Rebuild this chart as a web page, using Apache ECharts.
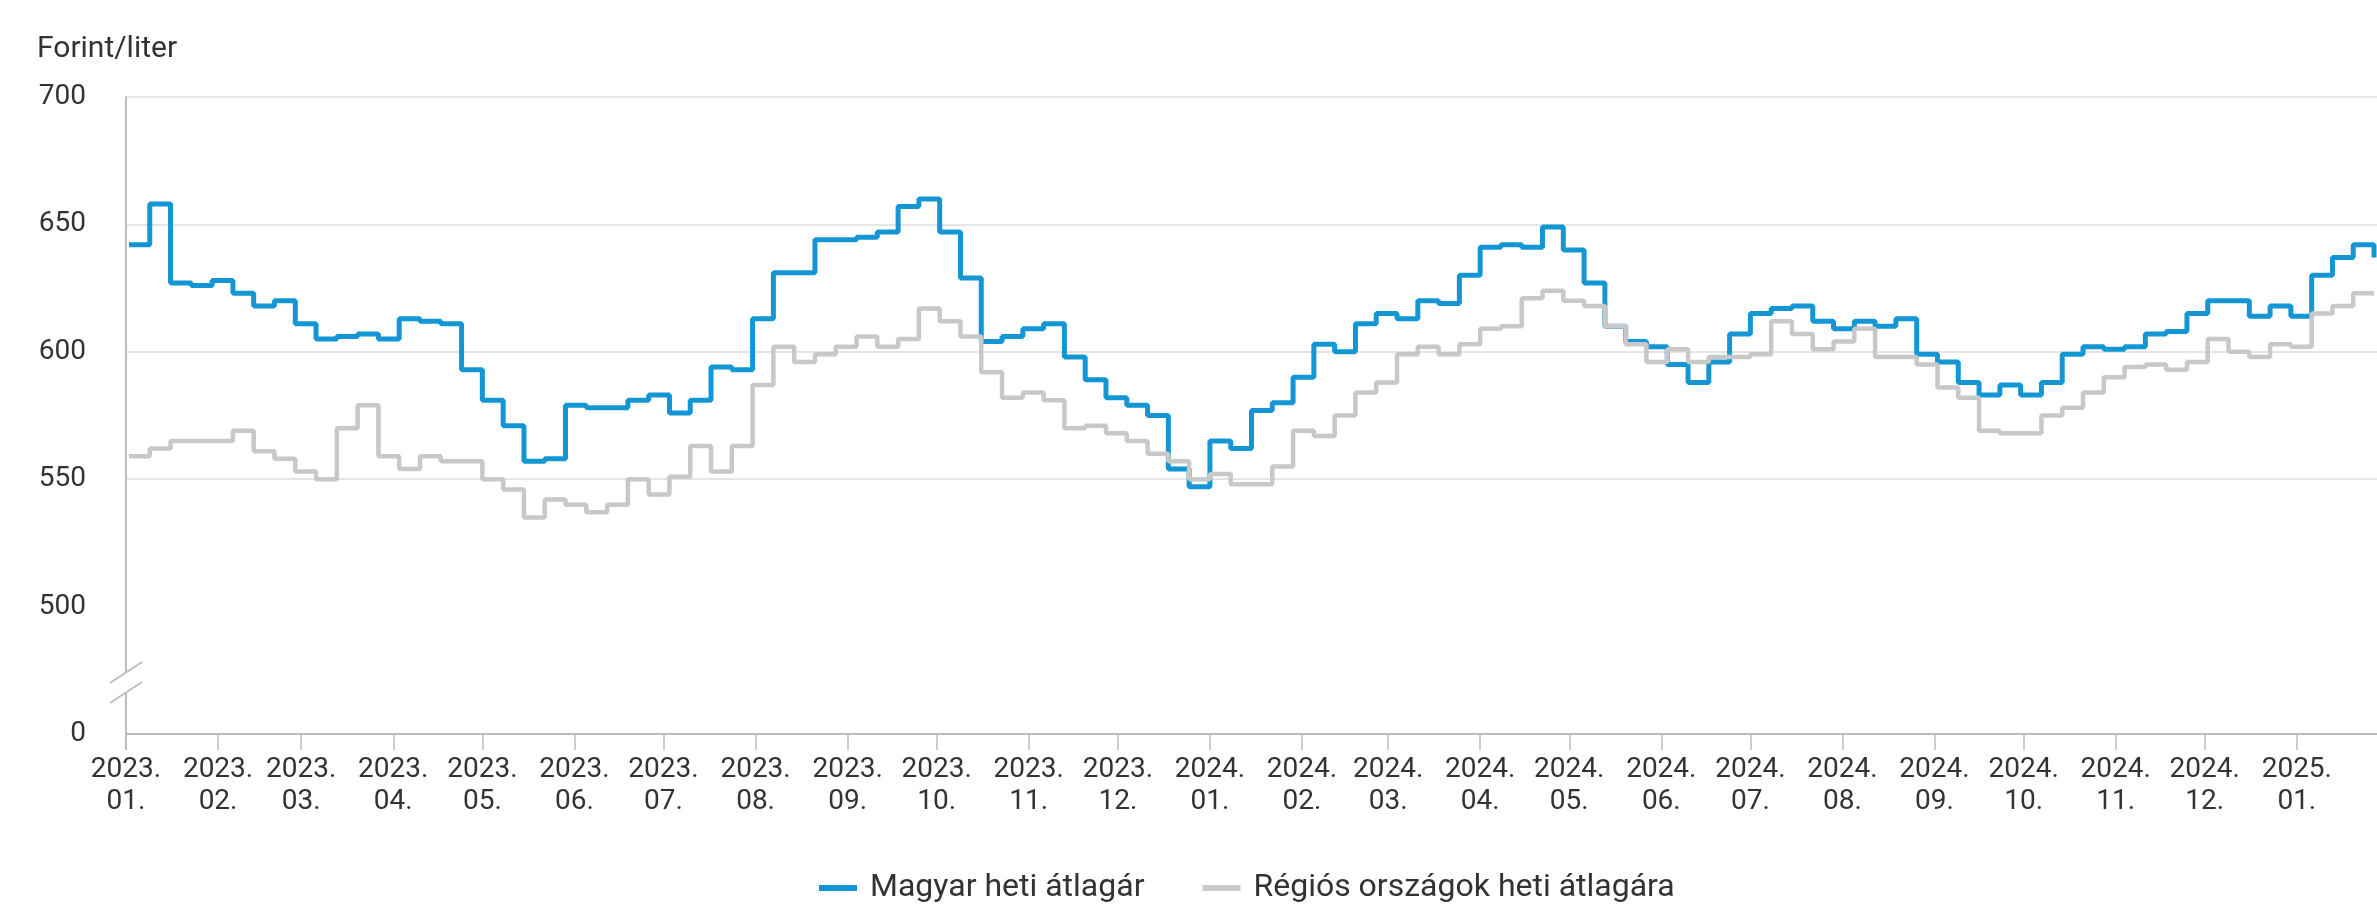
<!DOCTYPE html>
<html>
<head>
<meta charset="utf-8">
<title>Benzin heti átlagár</title>
<script src="https://cdn.jsdelivr.net/npm/echarts@6.0.0/dist/echarts.min.js"></script>
<style>
  html, body { margin: 0; padding: 0; background: #fff; }
  #chart-container { width: 2377px; height: 910px; }
</style>
</head>
<body>
<div id="chart-container"></div>
<script>
// weekly averages, Forint/liter, one value per week starting 2023-01-02
var firstWeek = Date.UTC(2023, 0, 2);

var huPrices = [
  642, 658, 627, 626, 628, 623, 618, 620, 611, 605, 606, 607, 605, 613, 612, 611,
  593, 581, 571, 557, 558, 579, 578, 578, 581, 583, 576, 581, 594, 593, 613,
  631, 631, 644, 644, 645, 647, 657, 660, 647, 629, 604, 606, 609, 611, 598,
  589, 582, 579, 575, 554, 547, 565, 562, 577, 580, 590, 603, 600, 611, 615,
  613, 620, 619, 630, 641, 642, 641, 649, 640, 627, 610, 604, 602, 595, 588, 596,
  607, 615, 617, 618, 612, 609, 612, 610, 613, 599, 596, 588, 583, 587, 583,
  588, 599, 602, 601, 602, 607, 608, 615, 620, 620, 614, 618, 614, 630, 637, 642, 637
];

var regionPrices = [
  559, 562, 565, 565, 565, 569, 561, 558, 553, 550, 570, 579, 559, 554, 559, 557,
  557, 550, 546, 535, 542, 540, 537, 540, 550, 544, 551, 563, 553, 563, 587,
  602, 596, 599, 602, 606, 602, 605, 617, 612, 606, 592, 582, 584, 581, 570,
  571, 568, 565, 560, 557, 550, 552, 548, 548, 555, 569, 567, 575, 584, 588,
  599, 602, 599, 603, 609, 610, 621, 624, 620, 618, 610, 603, 596, 601, 596, 598,
  598, 599, 612, 607, 601, 604, 609, 598, 598, 595, 586, 582, 569, 568, 568,
  575, 578, 584, 590, 594, 595, 593, 596, 605, 600, 598, 603, 602, 615, 618, 623, 623
];

var seriesNames = ['Magyar heti átlagár', 'Régiós országok heti átlagára'];
var yTicks = [0, 500, 550, 600, 650, 700];
var xRange = ['2023-01-01', '2025-01-28'];

var weeks = [];
for (var i = 0; i < huPrices.length; i++) {
  weeks.push(new Date(firstWeek + i * 7 * 864e5).toISOString().slice(0, 10));
}

var dom = document.getElementById('chart-container');
var myChart = echarts.init(dom, null, { renderer: 'canvas' });

var axisGray = '#bdbdbd';
var textColor = '#333';

var option = {
  animation: false,
  textStyle: { fontFamily: 'Roboto' },
  title: {
    text: 'Forint/liter',
    left: 37,
    top: 34,
    padding: 0,
    textStyle: { fontFamily: 'Roboto', fontSize: 30, fontWeight: 'normal', color: textColor }
  },
  grid: { left: 126, right: 0, top: 97, bottom: 176 },
  legend: {
    left: 819,
    top: 872,
    padding: 0,
    icon: 'rect',
    itemWidth: 38,
    itemHeight: 6,
    itemGap: 58,
    textStyle: { fontFamily: 'Roboto', fontSize: 32, color: textColor, padding: [0, 0, 0, 8] },
    data: seriesNames
  },
  xAxis: {
    type: 'time',
    min: xRange[0],
    max: xRange[1],
    splitNumber: 25,
    minInterval: 28 * 864e5,
    maxInterval: 31 * 864e5,
    axisLine: { lineStyle: { color: axisGray, width: 2 } },
    axisTick: { show: true, length: 16, lineStyle: { color: axisGray, width: 1.5 } },
    splitLine: { show: false },
    axisLabel: {
      formatter: '{yyyy}.\n{MM}.',
      fontFamily: 'Roboto',
      fontSize: 28,
      lineHeight: 32,
      color: textColor,
      margin: 20,
      showMaxLabel: false
    }
  },
  yAxis: {
    type: 'value',
    min: yTicks[0],
    max: yTicks[yTicks.length - 1],
    interval: yTicks[2] - yTicks[1],
    breaks: [{ start: yTicks[0], end: yTicks[1], gap: yTicks[2] - yTicks[1] }],
    breakArea: { show: false },
    axisLine: { show: true, lineStyle: { color: axisGray, width: 2 } },
    axisTick: { show: false },
    splitLine: { lineStyle: { color: '#dcdcdc', width: 1.5 } },
    axisLabel: { fontFamily: 'Roboto', fontSize: 28, color: textColor, margin: 40 }
  },
  graphic: [
    // axis line through the break, then the "//" break mark
    { type: 'line', z: 99, shape: { x1: 126, y1: 605, x2: 126, y2: 750 }, style: { stroke: axisGray, lineWidth: 2 } },
    { type: 'polygon', z: 100, shape: { points: [[110, 703], [142, 682], [142, 662], [110, 683]] }, style: { fill: '#fff' } },
    { type: 'line', z: 101, shape: { x1: 110, y1: 683, x2: 142, y2: 662 }, style: { stroke: axisGray, lineWidth: 2 } },
    { type: 'line', z: 101, shape: { x1: 110, y1: 703, x2: 142, y2: 682 }, style: { stroke: axisGray, lineWidth: 2 } }
  ],
  series: [
    {
      name: seriesNames[0],
      type: 'line',
      step: 'end',
      showSymbol: false,
      color: '#1396d3',
      lineStyle: { width: 5, color: '#1396d3' },
      data: weeks.map(function (d, i) { return [d, huPrices[i]]; })
    },
    {
      name: seriesNames[1],
      type: 'line',
      step: 'end',
      showSymbol: false,
      color: '#c8c8c8',
      lineStyle: { width: 4.5, color: '#c8c8c8' },
      data: weeks.map(function (d, i) { return [d, regionPrices[i]]; })
    }
  ]
};

if (option && typeof option === 'object') {
  myChart.setOption(option);
}

window.addEventListener('resize', myChart.resize);
</script>
</body>
</html>
